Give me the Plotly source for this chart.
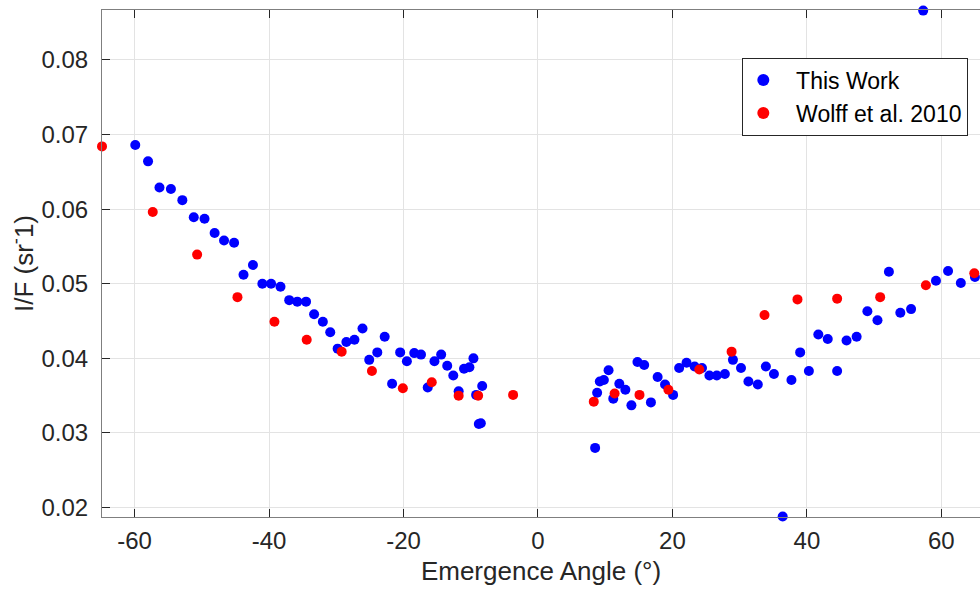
import plotly.graph_objects as go

# "This Work" (blue)
this_x = [-59.9, -58.0, -56.3, -54.6, -52.9, -51.2, -49.6, -48.1, -46.7, -45.2,
          -43.8, -42.4, -41.0, -39.7, -38.3, -37.0, -35.8, -34.5, -33.3, -32.0,
          -30.9, -29.8, -28.5, -27.3, -26.1, -25.1, -23.9, -22.8, -21.7, -20.5,
          -19.5, -18.4, -17.4, -16.4, -15.4, -14.4, -13.5, -12.6, -11.8, -11.0,
          -10.2, -9.6, -9.2, -8.3, -8.8, -8.5,
          8.5, 8.8, 9.2, 9.8, 10.5, 11.2, 12.1, 13.0, 13.9, 14.8,
          15.8, 16.8, 17.8, 18.9, 20.1, 21.0, 22.1, 23.3, 24.4, 25.5,
          26.6, 27.8, 29.0, 30.2, 31.3, 32.7, 33.9, 35.1, 36.4, 37.7,
          39.0, 40.3, 41.7, 43.1, 44.5, 45.9, 47.4, 49.0, 50.5, 52.2,
          53.9, 55.5, 57.3, 59.2, 61.0, 62.9, 65.0]
this_y = [0.0686, 0.0664, 0.0629, 0.0627, 0.0612, 0.0589, 0.0587, 0.0568, 0.0558, 0.0555,
          0.0512, 0.0525, 0.0500, 0.0500, 0.0496, 0.0478, 0.0476, 0.0476, 0.0459, 0.0449,
          0.0435, 0.0413, 0.0422, 0.0425, 0.0440, 0.0398, 0.0408, 0.0429, 0.0366, 0.0408,
          0.0396, 0.0407, 0.0405, 0.0361, 0.0396, 0.0405, 0.0390, 0.0377, 0.0356, 0.0386,
          0.0388, 0.0400, 0.0351, 0.0363, 0.0312, 0.0313,
          0.0280, 0.0354, 0.0369, 0.0371, 0.0384, 0.0346, 0.0366, 0.0358, 0.0337, 0.0395,
          0.0391, 0.0341, 0.0375, 0.0365, 0.0351, 0.0387, 0.0394, 0.0389, 0.0387, 0.0377,
          0.0377, 0.0379, 0.0398, 0.0387, 0.0369, 0.0365, 0.0389, 0.0379, 0.0188, 0.0371,
          0.0408, 0.0383, 0.0432, 0.0426, 0.0383, 0.0424, 0.0429, 0.0463, 0.0451, 0.0516,
          0.0461, 0.0466, 0.0866, 0.0504, 0.0517, 0.0501, 0.0509]

# "Wolff et al. 2010" (red)
wolff_x = [-64.85, -57.3, -50.7, -44.7, -39.2, -34.4, -29.2, -24.7, -20.1, -15.8,
           -11.8, -8.9, -3.7, 8.3, 11.4, 15.1, 19.4, 24.0, 28.8, 33.7,
           38.6, 44.5, 50.9, 57.7, 64.9]
wolff_y = [0.0684, 0.0596, 0.0539, 0.0482, 0.0449, 0.0425, 0.0409, 0.0383, 0.0360, 0.0368,
           0.0350, 0.0350, 0.0351, 0.0342, 0.0353, 0.0351, 0.0358, 0.0385, 0.0409, 0.0458,
           0.0479, 0.0480, 0.0482, 0.0498, 0.0514]

x_ticks = [-60, -40, -20, 0, 20, 40, 60]
y_ticks = [0.02, 0.03, 0.04, 0.05, 0.06, 0.07, 0.08]

FONT = "Liberation Sans, Arial, Helvetica, sans-serif"
AX = "#262626"

fig = go.Figure()
fig.add_trace(go.Scatter(x=this_x, y=this_y, mode="markers", name="&nbsp;&nbsp;This Work",
                         marker=dict(color="#0000ff", size=10, line=dict(width=0)),
                         cliponaxis=False))
fig.add_trace(go.Scatter(x=wolff_x, y=wolff_y, mode="markers", name="&nbsp;&nbsp;Wolff et al. 2010",
                         marker=dict(color="#ff0000", size=10, line=dict(width=0)),
                         cliponaxis=False))

fig.update_layout(
    width=980, height=592,
    margin=dict(l=102, r=0, t=10, b=75),
    plot_bgcolor="white", paper_bgcolor="white",
    font=dict(family=FONT, color=AX),
    legend=dict(x=0.9867, y=0.906, xanchor="right", yanchor="top",
                bgcolor="white", bordercolor=AX, borderwidth=1,
                font=dict(size=23, color="#000000"), itemsizing="constant",
                tracegroupgap=0),
    showlegend=True,
)
fig.update_xaxes(
    range=[-64.85, 65.75], tickvals=x_ticks, ticktext=[str(v) for v in x_ticks],
    showgrid=True, gridcolor="#e3e3e3", gridwidth=1, zeroline=False,
    showline=True, linecolor="#7f7f7f", linewidth=1, mirror="ticks",
    ticks="inside", ticklen=8, tickcolor=AX,
    tickfont=dict(size=24, color=AX), ticklabelstandoff=2,
    title=dict(text="Emergence Angle (°)", font=dict(size=26, color=AX), standoff=9),
)
fig.update_yaxes(
    range=[0.01874, 0.08668], tickvals=y_ticks, ticktext=[f"{v:.2f}" for v in y_ticks],
    showgrid=True, gridcolor="#e3e3e3", gridwidth=1, zeroline=False,
    showline=True, linecolor="#7f7f7f", linewidth=1, mirror=False,
    ticks="inside", ticklen=8, tickcolor=AX,
    tickfont=dict(size=24, color=AX), ticklabelstandoff=8,
    title=dict(text="I/F (sr<sup>-</sup>1)", font=dict(size=26, color=AX), standoff=0),
)

fig.write_html("out.html")
